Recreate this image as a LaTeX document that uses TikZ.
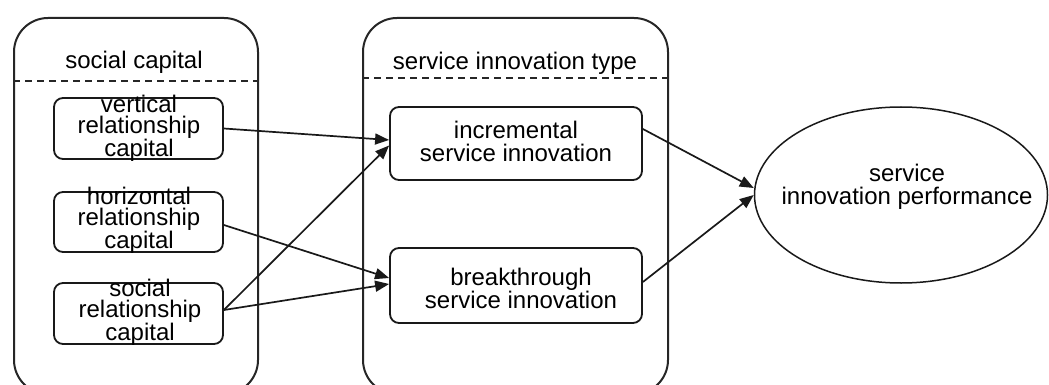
\documentclass[tikz,border=0pt]{standalone}
\usepackage{fontspec}
\setmainfont{Liberation Sans}
\usetikzlibrary{shapes.geometric,arrows.meta,calc}
\begin{document}
\begin{tikzpicture}[x=1pt,y=-1pt,
  outerbox/.style={draw=black!85,line width=2pt,rounded corners=34pt,inner sep=0pt,anchor=north west},
  ibox/.style={draw=black!90,line width=1.8pt,rounded corners=9pt,inner sep=0pt},
  sep/.style={draw=black!85,line width=1.4pt,dash pattern=on 7pt off 5pt},
  txtA/.style={align=center,inner sep=0pt,font=\fontsize{24}{21}\selectfont},
  txtB/.style={align=center,inner sep=0pt,font=\fontsize{24}{23}\selectfont},
  ttl/.style={anchor=base,inner sep=0pt,font=\fontsize{24}{24}\selectfont},
  arr/.style={draw=black!90,line width=1.7pt,-{Triangle[length=14pt,width=11pt]}}
]
\useasboundingbox (0,0) rectangle (1049,385);
\fill[white] (0,0) rectangle (1049,385);
% outer containers
\node[outerbox,minimum width=244,minimum height=376] (sc) at (13,17) {};
\node[outerbox,minimum width=305,minimum height=376] (sit) at (362,17) {};
\draw[sep] ($(sc.north west)+(0,64)$) -- ($(sc.north east)+(0,64)$);
\draw[sep] ($(sit.north west)+(0,61)$) -- ($(sit.north east)+(0,61)$);
\node[ttl] (sct) at (134,69) {social capital};
\node[ttl] (sitt) at (515,70) {service innovation type};
% left inner boxes
\node[ibox,minimum width=169,minimum height=61] (v) at (138.5,128.5) {};
\node[txtA] (vt) at (139,128) {vertical\\relationship\\capital};
\node[ibox,minimum width=169,minimum height=60] (h) at (138.5,222) {};
\node[txtA] (ht) at (139,220) {horizontal\\relationship\\capital};
\node[ibox,minimum width=169,minimum height=61] (s) at (138.5,313.5) {};
\node[txtA] (st) at (140,312.5) {social\\relationship\\capital};
% middle boxes
\node[ibox,minimum width=252,minimum height=73] (inc) at (516,143.5) {};
\node[txtB] (inct) at (516,141.5) {incremental\\service innovation};
\node[ibox,minimum width=252,minimum height=75] (brk) at (516,285.5) {};
\node[txtB] (brkt) at (521,288.5) {breakthrough\\service innovation};
% ellipse
\node[draw=black!90,line width=1.5pt,ellipse,minimum width=293,minimum height=176,inner sep=0pt] (p) at (901,195) {};
\node[txtB] (pt) at (907,187) {service\\innovation performance};
% connectors
\draw[arr] (v.east) -- ($(inc.west)+(0,-3.5)$);
\draw[arr] ($(h.east)+(0,3)$) -- ($(brk.west)+(0,-7.5)$);
\draw[arr] ($(s.east)+(0,-3.5)$) -- ($(inc.west)+(0,2)$);
\draw[arr] ($(s.east)+(0,-3.5)$) -- ($(brk.west)+(0,-1.5)$);
\draw[arr] ($(inc.east)+(0,-14.5)$) -- ($(p.west)+(0,-7)$);
\draw[arr] ($(brk.east)+(0,-3.5)$) -- ($(p.west)+(0,0)$);
\end{tikzpicture}
\end{document}
